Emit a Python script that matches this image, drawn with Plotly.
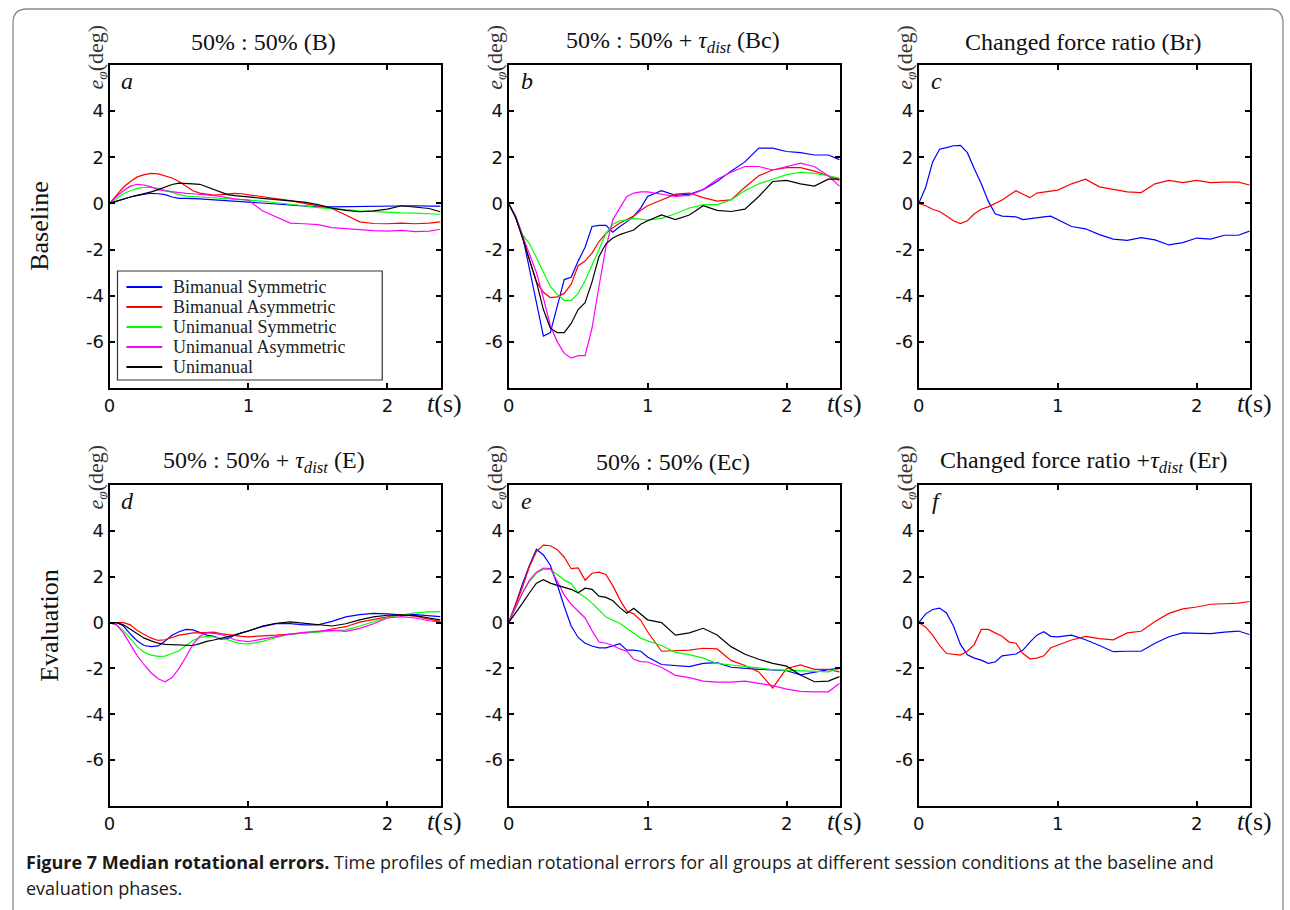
import plotly.graph_objects as go

# ---------------- data ----------------
T = [0.0, 0.05, 0.1, 0.15, 0.2, 0.25, 0.3, 0.35, 0.4, 0.45, 0.5, 0.55, 0.6, 0.65, 0.7,
     0.75, 0.8, 0.85, 0.9, 0.95, 1.0, 1.1, 1.2, 1.3, 1.4, 1.5, 1.6, 1.7, 1.8, 1.9,
     2.0, 2.1, 2.2, 2.3, 2.38]

GROUPS = ["Bimanual Symmetric", "Bimanual Asymmetric", "Unimanual Symmetric",
          "Unimanual Asymmetric", "Unimanual"]
COLORS = ["#0000ff", "#ff0000", "#00ff00", "#ff00ff", "#000000"]

# panel a : 50% : 50% (B)
a_bs = [0, 0.1, 0.2, 0.28, 0.35, 0.4, 0.44, 0.42, 0.38, 0.28, 0.22, 0.22, 0.22, 0.2, 0.18, 0.16, 0.14, 0.12, 0.1, 0.08, 0.07,
        0.04, 0.0, -0.05, -0.1, -0.15, -0.15, -0.14, -0.12, -0.1, -0.1, -0.09, -0.1, -0.12, -0.12]
a_ba = [0, 0.35, 0.7, 0.95, 1.15, 1.25, 1.3, 1.28, 1.2, 1.1, 0.95, 0.75, 0.55, 0.45, 0.4, 0.36, 0.38, 0.42, 0.44, 0.42, 0.38,
        0.3, 0.2, 0.12, 0.0, -0.1, -0.22, -0.5, -0.8, -0.87, -0.88, -0.85, -0.88, -0.85, -0.8]
a_us = [0, 0.22, 0.42, 0.55, 0.65, 0.7, 0.7, 0.65, 0.58, 0.48, 0.38, 0.32, 0.3, 0.28, 0.27, 0.26, 0.24, 0.22, 0.18, 0.16, 0.15,
        0.1, 0.03, -0.02, -0.1, -0.18, -0.24, -0.27, -0.32, -0.36, -0.4, -0.41, -0.42, -0.44, -0.47]
a_ua = [0, 0.3, 0.55, 0.75, 0.83, 0.8, 0.72, 0.6, 0.54, 0.5, 0.46, 0.44, 0.42, 0.4, 0.37, 0.34, 0.3, 0.24, 0.2, 0.17, 0.14,
        -0.32, -0.6, -0.85, -0.88, -0.92, -1.05, -1.1, -1.15, -1.18, -1.2, -1.17, -1.22, -1.2, -1.12]
a_u = [0, 0.1, 0.2, 0.28, 0.35, 0.42, 0.5, 0.6, 0.72, 0.82, 0.88, 0.88, 0.85, 0.83, 0.72, 0.62, 0.5, 0.38, 0.34, 0.3, 0.28,
       0.22, 0.17, 0.12, 0.06, -0.05, -0.2, -0.3, -0.36, -0.32, -0.25, -0.1, -0.15, -0.22, -0.36]

# panel b : 50% : 50% + tau_dist (Bc)
b_bs = [0, -0.55, -1.4, -2.9, -4.3, -5.75, -5.6, -4.5, -3.3, -3.2, -2.5, -1.9, -1.0, -0.95, -0.95, -1.25, -1.0, -0.8, -0.55, -0.2, 0.3,
        0.55, 0.35, 0.4, 0.6, 0.95, 1.4, 1.8, 2.4, 2.4, 2.25, 2.2, 2.1, 2.1, 1.9]
b_ba = [0, -0.6, -1.5, -2.4, -3.4, -3.85, -4.08, -4.05, -3.9, -3.5, -2.7, -2.5, -2.15, -1.65, -1.3, -1.05, -0.85, -0.7, -0.55, -0.3, -0.1,
        0.15, 0.4, 0.45, 0.25, 0.1, 0.15, 0.7, 1.2, 1.45, 1.55, 1.55, 1.4, 1.2, 1.0]
b_us = [0, -0.6, -1.35, -1.75, -2.35, -3.0, -3.6, -3.95, -4.2, -4.2, -3.9, -3.35, -2.7, -2.0, -1.3, -0.9, -0.75, -0.72, -0.65, -0.7, -0.72,
        -0.65, -0.45, -0.2, -0.05, -0.05, 0.15, 0.55, 0.85, 1.05, 1.25, 1.35, 1.3, 1.2, 1.1]
b_ua = [0, -0.6, -1.4, -2.2, -3.0, -4.1, -5.3, -6.0, -6.5, -6.7, -6.6, -6.6, -5.4, -3.6, -1.9, -0.7, -0.2, 0.3, 0.45, 0.5, 0.5,
        0.4, 0.3, 0.35, 0.6, 1.05, 1.35, 1.6, 1.6, 1.45, 1.6, 1.75, 1.6, 1.2, 0.75]
b_u = [0, -0.6, -1.5, -2.4, -3.4, -4.6, -5.4, -5.6, -5.6, -5.2, -4.6, -4.3, -3.4, -2.3, -1.75, -1.5, -1.35, -1.25, -1.15, -0.9, -0.75,
       -0.5, -0.7, -0.5, -0.1, -0.3, -0.35, -0.25, 0.3, 0.95, 1.0, 0.85, 0.75, 1.05, 1.05]

# panel c : Changed force ratio (Br)
c_bs = [0, 0.7, 1.8, 2.35, 2.42, 2.5, 2.52, 2.2, 1.5, 0.85, 0.1, -0.45, -0.55, -0.58, -0.58, -0.7, -0.65, -0.62, -0.58, -0.55, -0.7,
        -1.0, -1.1, -1.35, -1.55, -1.6, -1.48, -1.58, -1.8, -1.7, -1.5, -1.55, -1.38, -1.38, -1.2]
c_ba = [0, -0.1, -0.25, -0.35, -0.55, -0.75, -0.87, -0.75, -0.45, -0.25, -0.15, 0.0, 0.15, 0.35, 0.55, 0.4, 0.25, 0.45, 0.5, 0.55, 0.58,
        0.85, 1.05, 0.72, 0.6, 0.5, 0.47, 0.85, 1.0, 0.9, 1.0, 0.9, 0.92, 0.92, 0.8]

# panel d : 50% : 50% + tau_dist (E)
d_bs = [0, 0, -0.15, -0.5, -0.8, -1.0, -1.05, -1.02, -0.8, -0.55, -0.4, -0.3, -0.32, -0.45, -0.55, -0.6, -0.72, -0.7, -0.55, -0.45, -0.35,
        -0.18, -0.05, -0.05, -0.1, -0.1, 0.05, 0.25, 0.35, 0.4, 0.38, 0.34, 0.35, 0.3, 0.26]
d_ba = [0, 0, 0, -0.1, -0.35, -0.52, -0.68, -0.78, -0.75, -0.65, -0.55, -0.5, -0.45, -0.45, -0.45, -0.42, -0.48, -0.52, -0.58, -0.6, -0.62,
        -0.6, -0.55, -0.5, -0.45, -0.4, -0.28, -0.18, 0.02, 0.15, 0.25, 0.35, 0.28, 0.15, 0.05]
d_us = [0, -0.1, -0.35, -0.7, -1.05, -1.3, -1.42, -1.47, -1.46, -1.35, -1.23, -1.0, -0.78, -0.65, -0.6, -0.63, -0.68, -0.75, -0.85, -0.92, -0.93,
        -0.82, -0.65, -0.5, -0.46, -0.42, -0.38, -0.32, -0.15, 0.02, 0.22, 0.33, 0.42, 0.47, 0.48]
d_ua = [0, -0.1, -0.45, -0.95, -1.45, -1.85, -2.2, -2.45, -2.58, -2.4, -2.0, -1.5, -0.95, -0.6, -0.45, -0.47, -0.52, -0.62, -0.75, -0.8, -0.83,
        -0.72, -0.6, -0.5, -0.43, -0.38, -0.33, -0.38, -0.25, -0.05, 0.2, 0.26, 0.2, 0.08, 0.03]
d_u = [0, 0, -0.1, -0.3, -0.5, -0.68, -0.8, -0.9, -0.95, -0.97, -0.98, -0.99, -1.0, -0.92, -0.82, -0.76, -0.7, -0.63, -0.55, -0.45, -0.37,
       -0.15, -0.03, 0.03, -0.03, -0.1, -0.15, -0.05, 0.12, 0.25, 0.32, 0.34, 0.3, 0.2, 0.12]

# panel e : 50% : 50% (Ec)
e_bs = [0, 0.8, 1.7, 2.5, 3.2, 2.95, 2.5, 1.65, 0.7, -0.15, -0.65, -0.9, -1.02, -1.1, -1.1, -1.0, -0.92, -1.2, -1.2, -1.25, -1.5,
        -1.83, -1.88, -1.92, -1.78, -1.75, -1.95, -2.0, -2.04, -2.06, -2.1, -2.28, -2.15, -2.05, -2.0]
e_ba = [0, 0.8, 1.55, 2.45, 3.1, 3.38, 3.35, 3.18, 2.85, 2.35, 2.38, 1.85, 2.15, 2.2, 2.1, 1.6, 1.0, 0.5, 0.38, 0.1, -0.4,
        -1.25, -1.22, -1.2, -1.12, -1.15, -1.65, -1.87, -2.15, -2.85, -2.0, -1.85, -2.04, -2.04, -2.15]
e_us = [0, 0.65, 1.3, 1.8, 2.15, 2.33, 2.32, 2.1, 1.85, 1.7, 1.3, 1.1, 0.85, 0.55, 0.25, 0.1, -0.03, -0.25, -0.45, -0.68, -0.8,
        -1.0, -1.3, -1.4, -1.55, -1.78, -1.85, -1.9, -1.98, -2.05, -2.08, -2.1, -2.15, -2.15, -2.0]
e_ua = [0, 0.65, 1.3, 1.85, 2.2, 2.38, 2.35, 1.8, 1.2, 0.8, 0.5, 0.2, -0.35, -0.85, -0.9, -1.0, -1.15, -1.25, -1.6, -1.7, -1.72,
        -1.95, -2.3, -2.4, -2.55, -2.6, -2.6, -2.55, -2.65, -2.75, -2.9, -3.0, -3.02, -3.02, -2.66]
e_u = [0, 0.4, 0.85, 1.3, 1.72, 1.87, 1.72, 1.62, 1.55, 1.45, 1.3, 1.5, 1.45, 1.15, 1.1, 0.95, 0.65, 0.41, 0.62, 0.35, 0.12,
       0.0, -0.55, -0.45, -0.25, -0.54, -1.05, -1.38, -1.6, -1.78, -1.9, -2.29, -2.58, -2.55, -2.36]

# panel f : Changed force ratio + tau_dist (Er)
f_bs = [0, 0.38, 0.57, 0.63, 0.42, -0.15, -0.95, -1.4, -1.55, -1.64, -1.78, -1.72, -1.45, -1.4, -1.37, -1.2, -0.85, -0.55, -0.4, -0.6, -0.62,
        -0.55, -0.75, -1.0, -1.27, -1.25, -1.25, -0.9, -0.62, -0.45, -0.48, -0.48, -0.42, -0.37, -0.52]
f_ba = [0, -0.2, -0.55, -1.0, -1.35, -1.38, -1.42, -1.25, -0.95, -0.3, -0.3, -0.45, -0.6, -0.85, -0.9, -1.35, -1.58, -1.55, -1.45, -1.1, -0.98,
        -0.76, -0.6, -0.7, -0.75, -0.45, -0.38, 0.05, 0.4, 0.6, 0.68, 0.8, 0.82, 0.85, 0.92]

X_TICKS = [0, 1, 2]
X_TICKTEXT = ["0", "1", "2"]
Y_TICKS = [-6, -4, -2, 0, 2, 4]
Y_TICKTEXT = ["-6", "-4", "-2", "0", "2", "4"]

TITLES = ["50% : 50% (B)",
          "50% : 50% + <i>τ<sub>dist</sub></i> (Bc)",
          "Changed force ratio (Br)",
          "50% : 50% + <i>τ<sub>dist</sub></i> (E)",
          "50% : 50% (Ec)",
          "Changed force ratio +<i>τ<sub>dist</sub></i> (Er)"]
LETTERS = ["a", "b", "c", "d", "e", "f"]
ROW_LABELS = ["Baseline", "Evaluation"]

PANELS = [
    [a_bs, a_ba, a_us, a_ua, a_u],
    [b_bs, b_ba, b_us, b_ua, b_u],
    [c_bs, c_ba],
    [d_bs, d_ba, d_us, d_ua, d_u],
    [e_bs, e_ba, e_us, e_ua, e_u],
    [f_bs, f_ba],
]

# ---------------- layout geometry (pixels) ----------------
W, H = 1290, 910
XPIX = [(104, 437), (505, 838), (917, 1250)]
YPIX = [(65, 388), (485, 806)]


def px(x):
    return x / W


def py(y):
    return 1 - y / H


SERIF = "Liberation Serif"
SANS = "DejaVu Sans"

fig = go.Figure()
layout = {}
annotations = []
shapes = []

for i, series in enumerate(PANELS):
    r, c = divmod(i, 3)
    xs = "x" if i == 0 else f"x{i+1}"
    ys = "y" if i == 0 else f"y{i+1}"
    for k, vals in enumerate(series):
        assert len(vals) == len(T), (i, k, len(vals))
        fig.add_trace(go.Scatter(
            x=T, y=vals, mode="lines", name=GROUPS[k], legendgroup=GROUPS[k],
            line=dict(color=COLORS[k], width=1.2),
            showlegend=False, xaxis=xs, yaxis=ys, hoverinfo="skip"))
    x0, x1 = XPIX[c]
    y0, y1 = YPIX[r]
    common = dict(ticks="inside", ticklen=5, tickwidth=1.5, tickcolor="black",
                  showline=True, linecolor="black", linewidth=2, mirror="ticks",
                  showgrid=False, zeroline=False,
                  tickfont=dict(family=SANS, size=18, color="#111"))
    layout["xaxis" if i == 0 else f"xaxis{i+1}"] = dict(
        domain=[px(x0), px(x1)], range=[0, 2.385], anchor=ys,
        tickmode="array", tickvals=X_TICKS, ticktext=X_TICKTEXT, **common)
    layout["yaxis" if i == 0 else f"yaxis{i+1}"] = dict(
        domain=[py(y1), py(y0)], range=[-8, 6], anchor=xs,
        tickmode="array", tickvals=Y_TICKS, ticktext=Y_TICKTEXT, **common)

    tcx = [259, 670, 1083][c]
    tcy = [42, 462][r]
    annotations.append(dict(x=px(tcx), y=py(tcy), xref="paper", yref="paper",
                            text=TITLES[i], showarrow=False, xanchor="center", yanchor="middle",
                            font=dict(family=SERIF, size=24, color="#111")))
    annotations.append(dict(x=px(x0 + 18), y=py(y0 + 16), xref="paper", yref="paper",
                            text=f"<i>{LETTERS[i]}</i>", showarrow=False,
                            xanchor="center", yanchor="middle",
                            font=dict(family=SERIF, size=24, color="#111")))
    annotations.append(dict(x=px(x0 - 13), y=py(y0 - 8), xref="paper", yref="paper",
                            text="<i>e</i><sub><i>φ</i></sub>(deg)", showarrow=False,
                            textangle=-90, xanchor="center", yanchor="middle",
                            font=dict(family=SERIF, size=22, color="#333")))
    annotations.append(dict(x=px(x1 + 4), y=py(y1 + 15), xref="paper", yref="paper",
                            text="<i>t</i>(s)", showarrow=False,
                            xanchor="center", yanchor="middle",
                            font=dict(family=SERIF, size=26, color="#111")))

annotations.append(dict(x=px(33), y=py(226), xref="paper", yref="paper", text=ROW_LABELS[0],
                        showarrow=False, textangle=-90, xanchor="center", yanchor="middle",
                        font=dict(family=SERIF, size=26, color="#111")))
annotations.append(dict(x=px(43), y=py(625), xref="paper", yref="paper", text=ROW_LABELS[1],
                        showarrow=False, textangle=-90, xanchor="center", yanchor="middle",
                        font=dict(family=SERIF, size=26, color="#111")))

# legend box (panel a), built from GROUPS / COLORS
LX0, LX1, LY0, LY1 = 112, 378, 271, 380
shapes.append(dict(type="rect", xref="paper", yref="paper",
                   x0=px(LX0), x1=px(LX1), y0=py(LY1), y1=py(LY0),
                   line=dict(color="#333", width=1.2), fillcolor="white", layer="above"))
for k, name in enumerate(GROUPS):
    yc = 287 + k * 20
    shapes.append(dict(type="line", xref="paper", yref="paper",
                       x0=px(121), x1=px(157), y0=py(yc), y1=py(yc),
                       line=dict(color=COLORS[k], width=2), layer="above"))
    annotations.append(dict(x=px(166), y=py(yc), xref="paper", yref="paper", text=name,
                            showarrow=False, xanchor="left", yanchor="middle",
                            font=dict(family=SERIF, size=18, color="#222")))

CAP1 = ("<b>Figure 7 Median rotational errors.</b> Time profiles of median rotational errors for all "
        "groups at different session conditions at the baseline and")
CAP2 = "evaluation phases."
annotations.append(dict(x=px(18), y=py(862), xref="paper", yref="paper", text=CAP1,
                        showarrow=False, xanchor="left", yanchor="middle",
                        font=dict(family="Open Sans", size=18, color="#1a1a1a")))
annotations.append(dict(x=px(18), y=py(888), xref="paper", yref="paper", text=CAP2,
                        showarrow=False, xanchor="left", yanchor="middle",
                        font=dict(family="Open Sans", size=18, color="#1a1a1a")))

# outer rounded frame
R = 14
fx0, fx1, fy0, fy1 = 7, 1283, 9, 930
path = (f"M {px(fx0)},{py(fy1)} L {px(fx0)},{py(fy0 + R)} "
        f"Q {px(fx0)},{py(fy0)} {px(fx0 + R)},{py(fy0)} "
        f"L {px(fx1 - R)},{py(fy0)} Q {px(fx1)},{py(fy0)} {px(fx1)},{py(fy0 + R)} "
        f"L {px(fx1)},{py(fy1)}")
shapes.append(dict(type="path", xref="paper", yref="paper", path=path,
                   line=dict(color="#8a8a8a", width=1.3)))

fig.update_layout(
    width=W, height=H, margin=dict(l=0, r=0, t=0, b=0),
    paper_bgcolor="white", plot_bgcolor="white",
    showlegend=False,
    annotations=annotations, shapes=shapes, **layout)

fig.write_html("out.html")
